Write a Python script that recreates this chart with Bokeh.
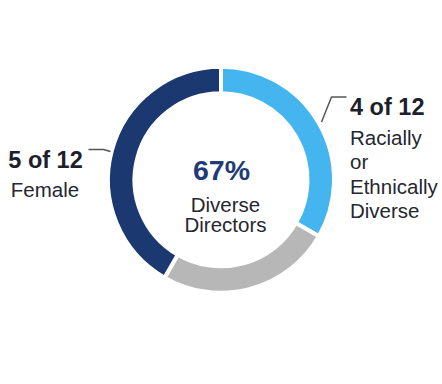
import math
from bokeh.plotting import figure
from bokeh.models import Range1d
from bokeh.core.properties import value
from bokeh.embed import file_html
from bokeh.resources import INLINE

# ---- data ----
categories = ["Racially or Ethnically Diverse", "Other", "Female"]
counts = [4, 3, 5]
total = 12
colors = ["#44b5ef", "#b7b7b7", "#1b3870"]
center_pct = "67%"
center_lines = ["Diverse", "Directors"]
right_head = "4 of 12"
right_lines = ["Racially", "or", "Ethnically", "Diverse"]
left_head = "5 of 12"
left_lines = ["Female"]

W, H = 442, 384

def py(y):  # page y -> data y
    return H - y

p = figure(width=W, height=H, output_backend="svg", toolbar_location=None,
           x_range=Range1d(0, W), y_range=Range1d(0, H),
           min_border=0)
p.axis.visible = False
p.grid.visible = False
p.outline_line_color = None
p.background_fill_color = "white"
p.border_fill_color = "white"

cx, cy = 220.5, py(179.3)

starts, ends = [], []
cum = 0
for c in counts:
    starts.append(math.pi / 2 - 2 * math.pi * cum / total)
    cum += c
    ends.append(math.pi / 2 - 2 * math.pi * cum / total)

p.annular_wedge(x=[cx] * len(counts), y=[cy] * len(counts),
                inner_radius=86.5, outer_radius=113,
                start_angle=starts, end_angle=ends, direction="clock",
                fill_color=colors, line_color="white", line_width=4)

font = value("Liberation Sans")
body = "#262630"
bold = "#1e1e2c"

# center text
p.text(x=[221], y=[py(169.3)], text=[center_pct], text_font=font,
       text_font_size="28.5px", text_font_style="bold", text_color="#1f3b78",
       text_align="center", text_baseline="alphabetic")
p.text(x=[225], y=[py(204.3)], text=[center_lines[0]], text_font=font,
       text_font_size="20.5px", text_color=body,
       text_align="center", text_baseline="alphabetic")
p.text(x=[225], y=[py(224.3)], text=[center_lines[1]], text_font=font,
       text_font_size="20.5px", text_color=body,
       text_align="center", text_baseline="alphabetic")

# right label
p.text(x=[349.5], y=[py(106)], text=[right_head], text_font=font,
       text_font_size="23.5px", text_font_style="bold", text_color=bold,
       text_align="left", text_baseline="alphabetic")
p.text(x=[349.5] * 4, y=[py(136.7), py(161.3), py(185.5), py(210)],
       text=right_lines, text_font=font, text_font_size="20.5px",
       text_color=body, text_align="left", text_baseline="alphabetic")
p.line(x=[321, 331, 346], y=[py(121.5), py(96.5), py(96.5)],
       line_color="#555555", line_width=1.5)

# left label
p.text(x=[45], y=[py(159.3)], text=[left_head], text_font=font,
       text_font_size="23.5px", text_font_style="bold", text_color=bold,
       text_align="center", text_baseline="alphabetic")
p.text(x=[44.5], y=[py(189.3)], text=left_lines, text_font=font,
       text_font_size="20.5px", text_color=body,
       text_align="center", text_baseline="alphabetic")
p.line(x=[88, 103, 110], y=[py(149), py(149), py(151)],
       line_color="#555555", line_width=1.5)

open("out.html", "w").write(file_html(p, INLINE))
